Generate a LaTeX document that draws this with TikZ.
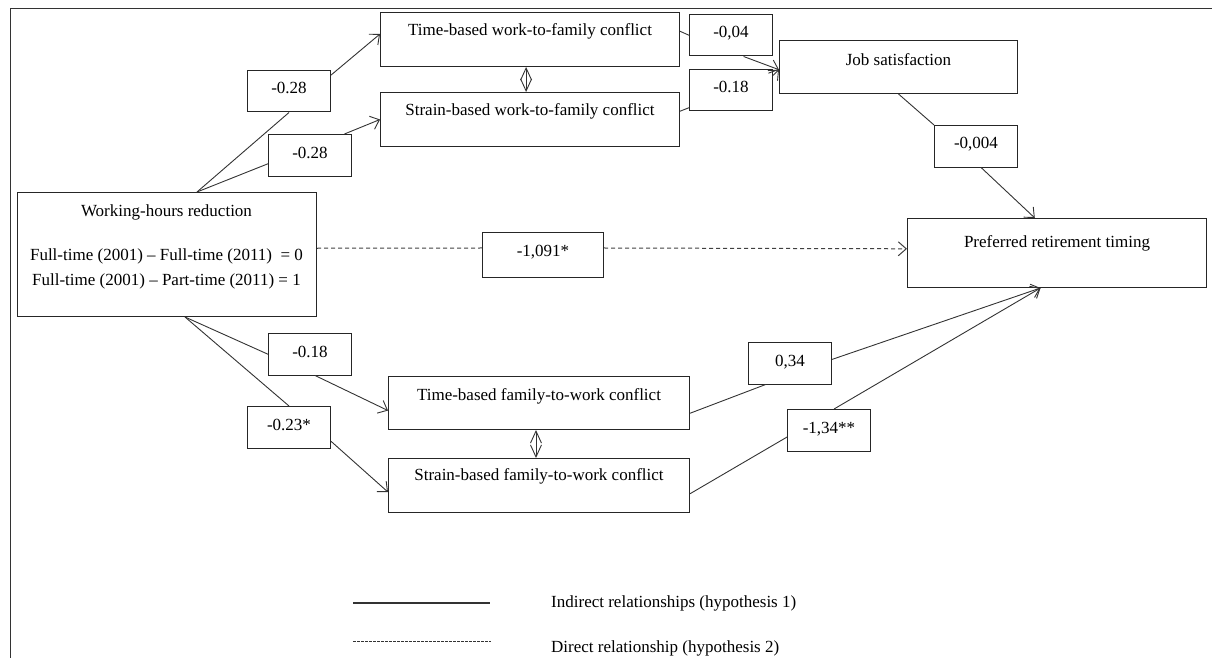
\documentclass[tikz,border=0pt]{standalone}
\usepackage{fontspec}
\setmainfont{Liberation Serif}
\usetikzlibrary{arrows.meta,calc}
\begin{document}
\begin{tikzpicture}[x=1pt,y=-1pt,
  every node/.style={font=\fontsize{17}{20}\selectfont, text=black},
  box/.style={draw=black!85, line width=1pt, inner xsep=0pt, inner ysep=0pt, anchor=north west},
  lab/.style={box, minimum width=83pt, text height=23.5pt, text depth=18pt},
  conn/.style={draw=black!80, line width=0.9pt},
  arr/.style={conn, -{Straight Barb[length=8pt,width=14pt]}},
  dbl/.style={conn, {Straight Barb[length=12pt,width=11pt]}-{Straight Barb[length=12pt,width=11pt]}},
  direct/.style={conn, draw=black!75, line width=1pt, dash pattern=on 4pt off 3pt},
]
\useasboundingbox (0,0) rectangle (1212,658);
\draw[conn] (10,658) -- (10,8) -- (1212,8);

% main boxes
\node[box, minimum width=299pt, text height=23pt, text depth=31pt] (twf) at (380,12) {Time-based work-to-family conflict};
\node[box, minimum width=299pt, text height=23pt, text depth=31pt] (swf) at (380,92) {Strain-based work-to-family conflict};
\node[box, minimum width=238pt, text height=25pt, text depth=28pt] (js) at (779,40) {Job satisfaction};
\node[box, minimum width=299pt, text height=29pt, text depth=40pt] (prt) at (907,218) {Preferred retirement timing};
\node[box, minimum width=301pt, text height=24pt, text depth=29pt] (tfw) at (388,376) {Time-based family-to-work conflict};
\node[box, minimum width=301pt, text height=22pt, text depth=32pt] (sfw) at (388,458) {Strain-based family-to-work conflict};
\node[box, minimum width=299pt, minimum height=124pt] (whr) at (17,192) {};
\node[anchor=base, inner sep=0pt] (whrt1) at (166.5,216.7) {Working-hours reduction};
\node[anchor=base, inner sep=0pt] (whrt2) at (166.5,260) {Full-time (2001) -- Full-time (2011)\ \ = 0};
\node[anchor=base, inner sep=0pt] (whrt3) at (166.5,285) {Full-time (2001) -- Part-time (2011) = 1};

% coefficient labels
\node[lab] (l1) at (247,70) {-0.28};
\node[lab] (l2) at (268,134) {-0.28};
\node[lab] (l3) at (689,14) {-0,04};
\node[lab] (l4) at (689,69) {-0.18};
\node[lab] (l5) at (934,125) {-0,004};
\node[box, minimum width=121pt, text height=23.7pt, text depth=21pt] (l6) at (482,232) {-1,091*};
\node[lab] (l7) at (268,333) {-0.18};
\node[lab] (l8) at (247,406) {-0.23*};
\node[lab] (l9) at (748,342) {0,34};
\node[lab] (l10) at (787,409) {-1,34**};

% top connectors
\coordinate (wt) at ($(whr.north west)!0.6!(whr.north east)$);
\draw[conn] (wt) -- (l1.south);
\draw[arr] ($(l1.north east)!0.12!(l1.south east)$) -- ($(twf.north west)!0.4!(twf.south west)$);
\draw[conn] (wt) -- ($(l2.north west)!0.7!(l2.south west)$);
\draw[arr] ($(l2.north west)!0.91!(l2.north east)$) -- (swf.west);
\draw[conn] ($(twf.north east)!0.35!(twf.south east)$) -- (l3.west);
\coordinate (jsin) at ($(js.north west)!0.55!(js.south west)$);
\draw[arr] ($(l3.south west)!0.65!(l3.south east)$) -- (jsin);
\draw[conn] ($(swf.north east)!0.35!(swf.south east)$) -- ($(l4.north west)!0.91!(l4.south west)$);
\draw[arr] ($(l4.north east)!0.15!(l4.south east)$) -- (jsin);
\draw[dbl] ($(twf.south west)!0.487!(twf.south east)$) -- ($(swf.north west)!0.487!(swf.north east)$);
\draw[conn] (js.south) -- (l5.north west);
\draw[arr] ($(l5.south west)!0.56!(l5.south east)$) -- ($(prt.north west)!0.426!(prt.north east)$);

% direct path
\draw[direct] ($(whr.north east)!0.45!(whr.south east)$) -- ($(l6.north west)!0.35!(l6.south west)$);
\draw[direct, -{Straight Barb[length=8pt,width=14pt]}] ($(l6.north east)!0.35!(l6.south east)$) -- ($(prt.north west)!0.44!(prt.south west)$);

% bottom connectors
\coordinate (wb) at ($(whr.south west)!0.56!(whr.south east)$);
\draw[conn] (wb) -- (l7.west);
\draw[conn] (wb) -- (l8.north);
\draw[arr] ($(l7.south west)!0.56!(l7.south east)$) -- ($(tfw.north west)!0.64!(tfw.south west)$);
\draw[arr] ($(l8.north east)!0.83!(l8.south east)$) -- ($(sfw.north west)!0.62!(sfw.south west)$);
\draw[dbl] ($(tfw.south west)!0.49!(tfw.south east)$) -- ($(sfw.north west)!0.49!(sfw.north east)$);
\coordinate (pin) at ($(prt.south west)!0.445!(prt.south east)$);
\draw[conn] ($(tfw.north east)!0.69!(tfw.south east)$) -- ($(l9.south west)!0.21!(l9.south east)$);
\draw[arr] ($(l9.north east)!0.41!(l9.south east)$) -- (pin);
\draw[conn] ($(sfw.north east)!0.65!(sfw.south east)$) -- ($(l10.north west)!0.66!(l10.south west)$);
\draw[arr] ($(l10.north west)!0.56!(l10.north east)$) -- (pin);

% legend
\coordinate (lg1a) at (353,603);
\coordinate (lg1b) at (490,603);
\draw[conn, line width=1.1pt] (lg1a) -- (lg1b);
\node[anchor=base west, inner sep=0pt] (lgt1) at (551,607) {Indirect relationships (hypothesis 1)};
\coordinate (lg2a) at (353,641);
\coordinate (lg2b) at (491,641);
\draw[conn, line width=1pt, dash pattern=on 2.5pt off 1.5pt] (lg2a) -- (lg2b);
\node[anchor=base west, inner sep=0pt] (lgt2) at (551,652) {Direct relationship (hypothesis 2)};
\end{tikzpicture}
\end{document}
